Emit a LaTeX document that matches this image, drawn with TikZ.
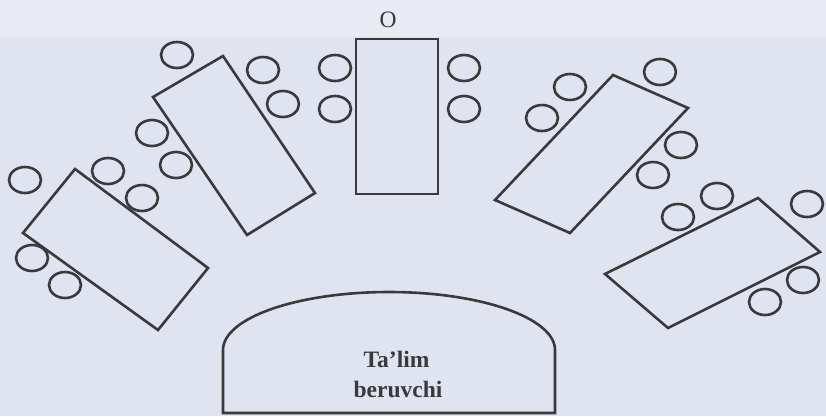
\documentclass[tikz,border=0pt]{standalone}
\usepackage{fontspec}
\setmainfont{Liberation Serif}
\definecolor{paper}{HTML}{E0E3F0}
\definecolor{paperlight}{HTML}{E8EAF4}
\definecolor{inkgray}{HTML}{3A3A3C}
\begin{document}
\begin{tikzpicture}[x=1pt,y=-1pt,
  ink/.style={draw=inkgray, line width=2.6pt, line join=miter},
  desk/.style={ink},
  seat/.style={ink},
  label/.style={text=inkgray, inner sep=0pt, anchor=base,
    font=\fontsize{23.5}{28}\selectfont}]
% page
\useasboundingbox (0,0) rectangle (826,416);
\fill[paper] (0,0) rectangle (826,416);
\fill[paperlight] (0,0) rectangle (826,37);

% front mark
\node[label] (front) at (388,27) {O};

% tables (corner points)
\draw[desk] (75,169) -- (208,268) -- (158,330) -- (23,233) -- cycle;   % far left
\draw[desk] (223,56) -- (315,193) -- (247,235) -- (153,97) -- cycle;   % left
\draw[desk] (356,39) rectangle (438,194);                              % centre
\draw[desk] (613,75) -- (688,108) -- (570,233) -- (495,200) -- cycle;  % right
\draw[desk] (758,198) -- (820,252) -- (668,328) -- (605,274) -- cycle; % far right

% chairs
\foreach \cx/\cy in {
  25/180, 108/171, 142/198, 32/258, 65/285,     % far left table
  177/55, 263/70, 283/104, 152/133, 176/165,    % left table
  335/68, 335/109, 464/68, 464/109,             % centre table
  570/87, 542/118, 660/72, 681/145, 653/175,    % right table
  717/196, 678/217, 807/204, 803/280, 765/302}  % far right table
  \draw[seat] (\cx,\cy) ellipse [x radius=16, y radius=13];

% teacher's desk
\draw[ink] (223,413) -- (223,350) arc [start angle=180, end angle=0,
  x radius=166, y radius=-58] -- (555,413) -- cycle;
\node[label, font=\bfseries\fontsize{23.5}{28}\selectfont] (teacher1) at (396.5,367) {Ta’lim};
\node[label, font=\bfseries\fontsize{23.5}{28}\selectfont] (teacher2) at (398,397) {beruvchi};
\end{tikzpicture}
\end{document}
